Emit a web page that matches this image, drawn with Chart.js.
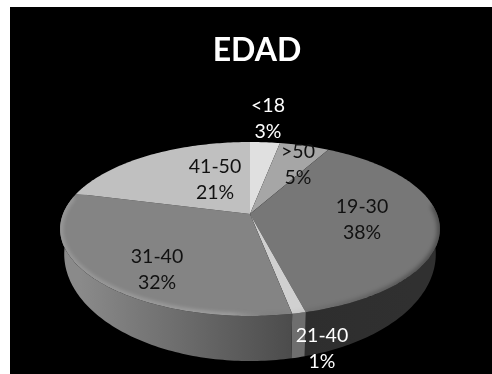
<!DOCTYPE html>
<html>
<head>
<meta charset="utf-8">
<title>EDAD</title>
<script src="https://cdn.jsdelivr.net/npm/chart.js@4/dist/chart.umd.min.js"></script>
<style>
    html, body { margin: 0; padding: 0; background: #fff; overflow: hidden; }
    #panel { position: absolute; left: 10px; top: 7px; width: 482px; height: 367px; background: #000; }
    #wrap { position: absolute; left: 12px; top: 0; width: 470px; height: 367px; }
</style>
</head>
<body>
<div id="panel"><div id="wrap"><canvas id="edadChart"></canvas></div></div>
<script>
const categories = ["<18", ">50", "19-30", "21-40", "31-40", "41-50"];
const percentages = [3, 5, 38, 1, 32, 21];

const topColors = ["#e0e0e0", "#a6a6a6", "#777777", "#d0d0d0", "#848484", "#c0c0c0"];
const wallColors = [
    ["#444444", "#444444"],
    ["#444444", "#444444"],
    ["#2e2e2e", "#303030"],
    ["#6e6e6e", "#6e6e6e"],
    ["#8a8a8a", "#4c4c4c"],
    ["#8a8a8a", "#8a8a8a"]
];
const labelColors = ["#ffffff", "#111111", "#111111", "#ffffff", "#111111", "#111111"];
// label centres relative to the apex of the pie
const labelOffsets = [[18, -108], [48, -62], [112, -7], [72, 122], [-93, 43], [-35, -47]];

// tilted disc: top rim and bottom rim of the pie, k is the perspective strength
const k = 0.1724;
const topRim = { a: 187, b: 84.4, dy: 0 };
const bottomRim = { a: 183, b: 103.8, dy: 21.6 };
const pieShiftX = -7;   // the pie sits a little left of the title
const DEG = Math.PI / 180;

function project(x0, y0, rim, angle) {
    const u = Math.cos(angle);
    const v = Math.sin(angle);
    const w = 1 - k * v;
    return { x: x0 + rim.a * u / w, y: y0 + rim.dy + rim.b * v / w };
}

function traceRim(ctx, x0, y0, rim, from, to, move) {
    const steps = Math.max(2, Math.ceil(Math.abs(to - from) / DEG));
    for (let i = 0; i <= steps; i++) {
        const p = project(x0, y0, rim, from + (to - from) * i / steps);
        if (i === 0 && move) ctx.moveTo(p.x, p.y);
        else ctx.lineTo(p.x, p.y);
    }
}

const tiltedPie = {
    id: "tiltedPie",
    beforeDatasetDraw(chart, args) {
        const ctx = chart.ctx;
        const arcs = args.meta.data;
        const x0 = arcs[0].x + pieShiftX;
        const y0 = arcs[0].y;

        // side wall, only the part that faces the viewer
        arcs.forEach(function (arc, i) {
            const from = Math.max(arc.startAngle, -20 * DEG);
            const to = Math.min(arc.endAngle, 200 * DEG);
            if (to <= from) return;
            const a = project(x0, y0, bottomRim, from);
            const b = project(x0, y0, bottomRim, to);
            const grad = ctx.createLinearGradient(Math.min(a.x, b.x), 0, Math.max(a.x, b.x), 0);
            grad.addColorStop(0, wallColors[i][0]);
            grad.addColorStop(1, wallColors[i][1]);
            ctx.beginPath();
            traceRim(ctx, x0, y0, topRim, from, to, true);
            traceRim(ctx, x0, y0, bottomRim, to, from, false);
            ctx.closePath();
            ctx.fillStyle = grad;
            ctx.fill();
        });

        // slices on top of the disc
        arcs.forEach(function (arc) {
            ctx.beginPath();
            ctx.moveTo(x0, y0);
            traceRim(ctx, x0, y0, topRim, arc.startAngle, arc.endAngle, false);
            ctx.closePath();
            ctx.fillStyle = arc.options.backgroundColor;
            ctx.fill();
        });

        // soft bevel along the front edge, lit on the left and shaded on the right
        ctx.save();
        ctx.beginPath();
        traceRim(ctx, x0, y0, topRim, 0, Math.PI * 2, true);
        ctx.closePath();
        ctx.clip();
        const bevel = ctx.createLinearGradient(x0 - 190, 0, x0 + 190, 0);
        bevel.addColorStop(0, "rgba(255,255,255,0.2)");
        bevel.addColorStop(0.45, "rgba(255,255,255,0.26)");
        bevel.addColorStop(0.6, "rgba(0,0,0,0.02)");
        bevel.addColorStop(1, "rgba(0,0,0,0.4)");
        ctx.filter = "blur(2px)";
        ctx.strokeStyle = bevel;
        ctx.lineWidth = 5;
        ctx.beginPath();
        traceRim(ctx, x0, y0, topRim, -6 * DEG, 192 * DEG, true);
        ctx.stroke();
        ctx.restore();

        return false;
    },
    afterDatasetsDraw(chart) {
        const ctx = chart.ctx;
        const arc = chart.getDatasetMeta(0).data[0];
        ctx.save();
        ctx.font = "19.5px Lato";
        ctx.textAlign = "center";
        ctx.textBaseline = "middle";
        categories.forEach(function (name, i) {
            const x = arc.x + pieShiftX + labelOffsets[i][0];
            const y = arc.y + labelOffsets[i][1];
            ctx.fillStyle = labelColors[i];
            ctx.fillText(name, x, y);
            ctx.fillText(percentages[i] + "%", x, y + 26);
        });
        ctx.restore();
    }
};

new Chart(document.getElementById("edadChart"), {
    type: "pie",
    data: {
        labels: categories,
        datasets: [{ data: percentages, backgroundColor: topColors, borderWidth: 0 }]
    },
    options: {
        responsive: true,
        maintainAspectRatio: false,
        animation: false,
        layout: { padding: { bottom: 15.4 } },
        plugins: {
            legend: { display: false },
            tooltip: { enabled: false },
            title: {
                display: true,
                text: "EDAD",
                color: "#ffffff",
                font: { family: "Lato", size: 32, weight: "bold" },
                padding: { top: 24, bottom: 0 }
            }
        }
    },
    plugins: [tiltedPie]
});
</script>
</body>
</html>
